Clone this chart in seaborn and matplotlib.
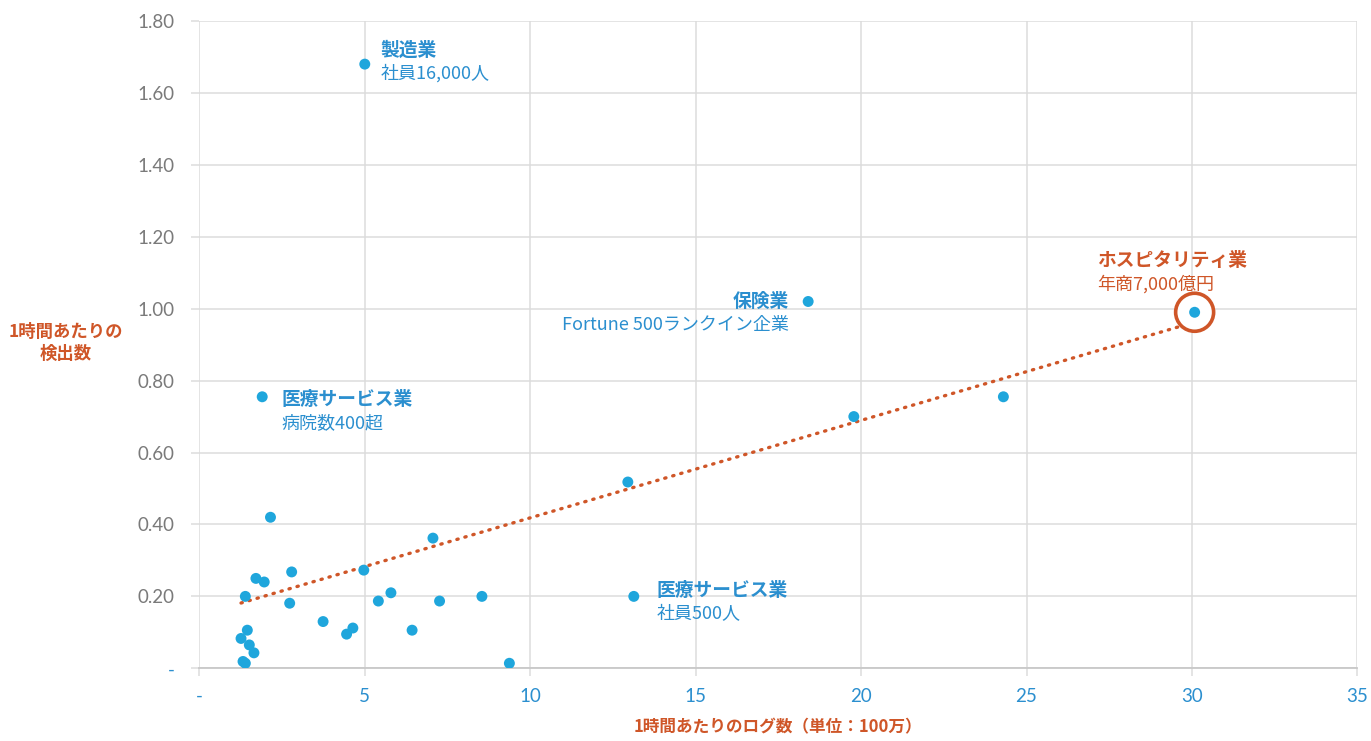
import matplotlib
matplotlib.use("Agg")
import matplotlib.pyplot as plt
import matplotlib.ticker as mticker
from matplotlib.patches import Ellipse
import numpy as np
import pandas as pd
import seaborn as sns

# Log volume per hour (millions) vs. detections per hour, one point per customer
log_volume = [5.0, 18.4, 30.08, 1.9, 19.78, 24.3, 12.95, 13.13, 7.06, 8.54,
              2.15, 1.71, 1.96, 2.79, 1.39, 2.73, 4.97, 5.41, 5.79, 7.26,
              3.74, 4.45, 4.64, 6.43, 1.45, 1.26, 1.51, 1.65, 1.32, 1.39, 9.37]
detections = [1.68, 1.02, 0.99, 0.755, 0.70, 0.755, 0.518, 0.20, 0.362, 0.20,
              0.42, 0.25, 0.24, 0.268, 0.20, 0.181, 0.273, 0.187, 0.21, 0.187,
              0.13, 0.095, 0.112, 0.106, 0.106, 0.083, 0.065, 0.043, 0.019, 0.014, 0.014]

# Highlighted customers
callout_x = [5.0, 18.4, 1.9, 13.13, 30.08]
callout_y = [1.68, 1.02, 0.755, 0.20, 0.99]
callout_title = ["製造業", "保険業", "医療サービス業", "医療サービス業", "ホスピタリティ業"]
callout_sub = ["社員16,000人", "Fortune 500ランクイン企業", "病院数400超", "社員500人", "年商7,000億円"]

x_ticks = [0, 5, 10, 15, 20, 25, 30, 35]
y_ticks = [0, 0.2, 0.4, 0.6, 0.8, 1.0, 1.2, 1.4, 1.6, 1.8]

BLUE_DOT = "#1fa6dc"
BLUE_TXT = "#2b8fcf"
ORANGE = "#cf5628"
GRAY_TXT = "#7a7a7a"
GRID = "#dcdcdc"

sns.set_theme(style="white")
plt.rcParams["font.family"] = ["Noto Sans CJK JP", "DejaVu Sans"]

df = pd.DataFrame({"logs": log_volume, "hits": detections})

fig = plt.figure(figsize=(13.71, 7.41), dpi=100)
ax = fig.add_axes([0.1454, 0.0981, 0.8447, 0.8736])

# Linear trend across all customers
sns.regplot(data=df, x="logs", y="hits", scatter=False, ci=None, ax=ax,
            line_kws=dict(color=ORANGE, lw=2.4, linestyle=(0, (0.4, 2.1)),
                          dash_capstyle="round", zorder=2))

# White-filled ring around the hospitality customer, drawn over the trend line
ring = Ellipse((callout_x[4], callout_y[4]), width=38 / 33.1, height=38 / 359.4,
               facecolor="white", edgecolor=ORANGE, lw=2.6, zorder=3)
ax.add_patch(ring)

sns.scatterplot(data=df, x="logs", y="hits", color=BLUE_DOT, s=62,
                edgecolor="none", ax=ax, zorder=4)

ax.set_xlim(0, 35)
ax.set_ylim(0, 1.8)
ax.set_xticks(x_ticks)
ax.set_yticks(y_ticks)
ax.xaxis.set_major_formatter(mticker.FuncFormatter(lambda v, p: "-" if v == 0 else f"{v:g}"))
ax.yaxis.set_major_formatter(mticker.FuncFormatter(lambda v, p: "-" if v == 0 else f"{v:.2f}"))

ax.grid(True, color=GRID, lw=1.1)
ax.set_axisbelow(True)
for side in ["top", "right", "left"]:
    ax.spines[side].set_visible(False)
ax.spines["bottom"].set_color("#c8c8c8")
ax.spines["bottom"].set_linewidth(1.3)

ax.tick_params(axis="both", which="major", length=6, width=1.1, color=GRID,
               labelsize=13.5)
ax.tick_params(axis="y", pad=12)
ax.tick_params(axis="x", pad=8)
ax.xaxis.set_ticks_position("bottom")
ax.yaxis.set_ticks_position("left")
for lab in ax.get_xticklabels():
    lab.set_color(BLUE_TXT)
    lab.set_family(["Lato", "DejaVu Sans"])
for lab, v in zip(ax.get_yticklabels(), y_ticks):
    lab.set_color(BLUE_TXT if v == 0 else GRAY_TXT)
    lab.set_family(["Lato", "DejaVu Sans"])

ax.set_xlabel("1時間あたりのログ数（単位：100万）", color=ORANGE, fontsize=12,
              fontweight="bold", labelpad=10)
ax.set_ylabel("")
fig.text(0.048, 0.537, "1時間あたりの\n検出数", color=ORANGE, fontsize=12.5,
         fontweight="bold", ha="center", va="center", linespacing=1.3)

# Callout labels: bold title with a smaller descriptor underneath
offsets = [(11.5, 10), (-14, 0), (14, -2), (16.5, 4), (-70, 37)]
aligns = ["left", "right", "left", "left", "left"]
colours = [BLUE_TXT, BLUE_TXT, BLUE_TXT, BLUE_TXT, ORANGE]
for x, y, t, s, off, ha, c in zip(callout_x, callout_y, callout_title,
                                  callout_sub, offsets, aligns, colours):
    ax.annotate(t, (x, y), xytext=off, textcoords="offset points", ha=ha,
                va="center", fontsize=13.5, fontweight="bold", color=c)
    ax.annotate(s, (x, y), xytext=(off[0], off[1] - 17), textcoords="offset points",
                ha=ha, va="center", fontsize=13, color=c)

fig.savefig("out.png", dpi=100, facecolor="white")
